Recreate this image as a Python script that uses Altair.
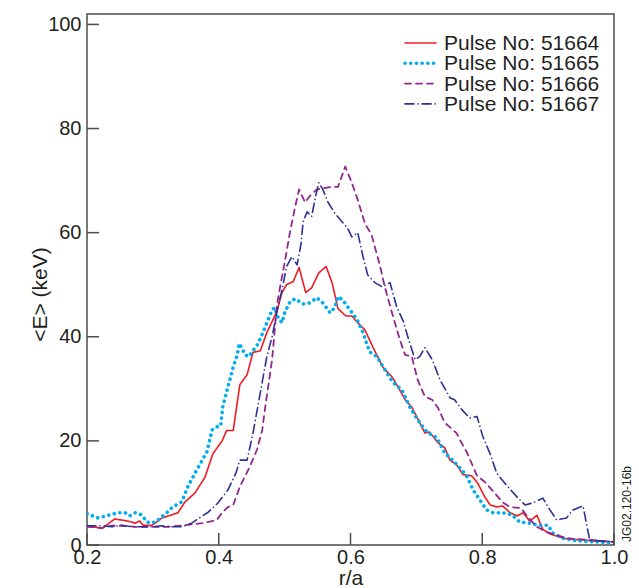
import altair as alt
import pandas as pd

# ---------------- data ----------------
series_names = ["Pulse No: 51664", "Pulse No: 51665", "Pulse No: 51666", "Pulse No: 51667"]

r_51664 = [0.200, 0.223, 0.242, 0.262, 0.273, 0.280, 0.285, 0.299, 0.314, 0.329, 0.338, 0.349,
           0.364, 0.379, 0.391, 0.405, 0.412, 0.422, 0.432, 0.443, 0.452, 0.463, 0.473, 0.488,
           0.496, 0.503, 0.513, 0.522, 0.532, 0.541, 0.552, 0.563, 0.572, 0.581, 0.593, 0.602,
           0.611, 0.622, 0.634, 0.649, 0.663, 0.672, 0.683, 0.693, 0.713, 0.720, 0.733, 0.743,
           0.751, 0.761, 0.771, 0.784, 0.793, 0.804, 0.812, 0.822, 0.831, 0.842, 0.853, 0.862,
           0.872, 0.883, 0.892, 0.903, 0.918, 0.928, 0.968, 1.000]
e_51664 = [3.7, 3.2, 5.0, 4.6, 4.2, 4.6, 3.8, 3.8, 5.2, 5.8, 6.2, 8.3,
           10.0, 13.0, 17.5, 20.0, 22.0, 22.0, 30.8, 32.7, 37.0, 37.3, 40.8, 44.8,
           48.5, 50.0, 50.6, 53.3, 48.5, 49.4, 52.3, 53.5, 50.4, 45.4, 44.0, 44.0,
           42.7, 41.3, 38.0, 34.2, 32.3, 30.4, 27.9, 26.5, 21.5, 21.7, 19.6, 18.7,
           16.3, 15.4, 13.5, 13.3, 11.9, 9.2, 7.7, 7.3, 7.5, 6.2, 5.6, 6.2,
           4.6, 5.7, 3.0, 2.1, 1.5, 1.2, 0.8, 0.6]

r_51665 = [0.200, 0.217, 0.235, 0.247, 0.258, 0.265, 0.273, 0.283, 0.291, 0.299, 0.308, 0.321,
           0.330, 0.344, 0.353, 0.364, 0.375, 0.382, 0.390, 0.397, 0.403, 0.406, 0.414, 0.422,
           0.428, 0.431, 0.435, 0.440, 0.446, 0.452, 0.459, 0.467, 0.475, 0.481, 0.485, 0.490,
           0.496, 0.500, 0.508, 0.516, 0.528, 0.538, 0.549, 0.558, 0.569, 0.576, 0.581, 0.588,
           0.599, 0.610, 0.619, 0.629, 0.640, 0.652, 0.664, 0.678, 0.690, 0.705, 0.716, 0.731,
           0.743, 0.755, 0.769, 0.777, 0.786, 0.796, 0.807, 0.816, 0.831, 0.845, 0.857, 0.872,
           0.884, 0.900, 0.907, 0.922, 0.944, 1.000]
e_51665 = [6.0, 5.2, 5.8, 6.2, 6.2, 5.6, 6.2, 5.8, 4.4, 4.2, 4.8, 6.2,
           7.3, 8.3, 11.2, 13.8, 16.3, 17.9, 22.1, 22.7, 22.9, 26.5, 30.4, 34.2,
           36.5, 38.7, 37.9, 36.5, 36.2, 37.3, 38.5, 40.8, 43.3, 45.2, 45.6, 43.7,
           42.7, 44.6, 46.7, 47.3, 46.3, 46.5, 47.5, 46.5, 44.6, 45.6, 47.7, 47.1,
           45.2, 43.3, 40.8, 37.1, 36.2, 33.7, 31.3, 29.8, 26.5, 23.5, 21.7, 20.6,
           17.7, 16.3, 14.4, 13.1, 10.6, 8.7, 6.7, 6.2, 6.2, 5.8, 4.4, 4.2,
           3.8, 3.8, 2.3, 1.3, 0.8, 0.4]

r_51666 = [0.200, 0.223, 0.238, 0.253, 0.273, 0.299, 0.323, 0.349, 0.375, 0.397, 0.405, 0.414,
           0.422, 0.432, 0.447, 0.458, 0.466, 0.470, 0.475, 0.481, 0.485, 0.488, 0.493, 0.500,
           0.508, 0.516, 0.522, 0.531, 0.538, 0.549, 0.558, 0.572, 0.581, 0.592, 0.602, 0.611,
           0.622, 0.632, 0.645, 0.652, 0.663, 0.675, 0.683, 0.693, 0.702, 0.713, 0.724, 0.733,
           0.743, 0.761, 0.766, 0.777, 0.792, 0.804, 0.816, 0.831, 0.842, 0.859, 0.869, 0.883,
           0.898, 0.913, 0.928, 0.959, 1.000]
e_51666 = [3.5, 3.3, 3.7, 3.7, 3.5, 3.5, 3.5, 3.8, 4.2, 4.8, 6.2, 7.3,
           7.7, 11.2, 15.0, 18.3, 22.1, 26.0, 30.4, 35.6, 41.3, 45.8, 49.5, 54.2,
           60.0, 65.0, 68.3, 65.8, 67.0, 68.3, 68.5, 68.8, 68.8, 72.7, 69.6, 66.3,
           61.7, 59.6, 53.5, 49.6, 44.6, 39.4, 36.5, 36.2, 31.7, 28.5, 27.9, 26.3,
           23.5, 21.5, 20.2, 17.7, 13.3, 12.1, 10.4, 8.2, 7.3, 7.1, 5.4, 3.5,
           2.5, 1.9, 1.3, 1.0, 0.6]

r_51667 = [0.200, 0.223, 0.238, 0.253, 0.268, 0.283, 0.299, 0.314, 0.329, 0.344, 0.359, 0.368,
           0.384, 0.399, 0.414, 0.426, 0.432, 0.443, 0.452, 0.463, 0.473, 0.481, 0.488, 0.496,
           0.503, 0.511, 0.519, 0.525, 0.528, 0.534, 0.541, 0.547, 0.552, 0.558, 0.566, 0.576,
           0.587, 0.595, 0.602, 0.611, 0.619, 0.626, 0.637, 0.648, 0.660, 0.670, 0.680, 0.687,
           0.698, 0.705, 0.713, 0.724, 0.736, 0.751, 0.758, 0.769, 0.781, 0.792, 0.801, 0.812,
           0.822, 0.834, 0.853, 0.865, 0.877, 0.892, 0.903, 0.913, 0.928, 0.937, 0.953, 0.963,
           0.978, 1.000]
e_51667 = [3.7, 3.7, 3.5, 3.8, 3.5, 3.5, 3.5, 3.7, 3.5, 3.5, 4.2, 5.0,
           6.3, 8.1, 10.6, 13.8, 16.3, 16.3, 21.5, 29.2, 36.2, 40.0, 44.6, 49.0,
           53.5, 55.4, 53.8, 58.0, 62.0, 64.0, 63.1, 67.0, 69.6, 68.3, 65.8, 63.8,
           62.1, 61.0, 59.2, 60.0, 55.4, 51.9, 50.4, 49.6, 50.4, 45.8, 43.0, 40.0,
           35.6, 36.2, 37.9, 35.6, 31.7, 28.3, 27.9, 26.0, 24.4, 24.7, 20.8, 17.5,
           13.8, 11.9, 9.2, 7.7, 8.1, 9.0, 6.7, 4.8, 5.2, 6.7, 7.5, 1.0,
           0.8, 0.6]

x_ticks = [0.2, 0.4, 0.6, 0.8, 1.0]
y_ticks = [0, 20, 40, 60, 80, 100]

series_r = [r_51664, r_51665, r_51666, r_51667]
series_e = [e_51664, e_51665, e_51666, e_51667]

# ---------------- styles ----------------
FONT = "Liberation Sans"
TXT = "#231f20"
FRAME = "#4d4d4d"
colors = ["#ed1c24", "#00aeef", "#92278f", "#2e3192"]
dashes = [[1, 0], [0.1, 5.6], [6, 5], [9, 4, 0.1, 4]]
widths = [1.6, 3.6, 1.8, 1.6]

W, H = 527, 531

xscale = alt.Scale(domain=[0.2, 1.0], nice=False, zero=False)
yscale = alt.Scale(domain=[0, 102], nice=False, zero=False)

xaxis = alt.Axis(values=x_ticks, format=".1f", title="r/a", ticks=False, domain=False, grid=False,
                 labelFontSize=20, labelPadding=2, labelFlush=False, labelFont=FONT, labelColor=TXT,
                 titleFont=FONT, titleFontSize=21, titleFontWeight="normal", titleColor=TXT,
                 titleBaseline="middle", titleY=33)
yaxis = alt.Axis(values=y_ticks, title="<E> (keV)", ticks=False, domain=False, grid=False,
                 labelFontSize=20, labelPadding=6, labelFont=FONT, labelColor=TXT,
                 titleFont=FONT, titleFontSize=21, titleFontWeight="normal", titleColor=TXT,
                 titleAngle=270, titleAlign="center", titleBaseline="middle", titleX=-47, titleY=280)

layers = []
for name, rr, ee, c, d, w in zip(series_names, series_r, series_e, colors, dashes, widths):
    df = pd.DataFrame({"r": rr, "E": ee})
    df["series"] = name
    layers.append(
        alt.Chart(df).mark_line(color=c, strokeDash=d, strokeWidth=w,
                                strokeCap="round", strokeJoin="round", clip=True)
        .encode(x=alt.X("r:Q", scale=xscale, axis=xaxis),
                y=alt.Y("E:Q", scale=yscale, axis=yaxis))
    )

# inward ticks
ytick = alt.Chart(pd.DataFrame({"v": y_ticks})).mark_rule(color=FRAME, strokeWidth=1.5).encode(
    y=alt.Y("v:Q", scale=yscale, axis=yaxis), x=alt.value(0), x2=alt.value(12))
xtick = alt.Chart(pd.DataFrame({"v": x_ticks})).mark_rule(color=FRAME, strokeWidth=1.5).encode(
    x=alt.X("v:Q", scale=xscale, axis=xaxis), y=alt.value(H), y2=alt.value(H - 12))
layers += [ytick, xtick]

# legend
leg_top, leg_step = 29, 20.3
for i, (name, c, d, w) in enumerate(zip(series_names, colors, dashes, widths)):
    ld = pd.DataFrame({"series": [name]})
    yy = leg_top + i * leg_step
    layers.append(alt.Chart(ld).mark_rule(color=c, strokeDash=d, strokeWidth=w, strokeCap="round")
                  .encode(x=alt.value(318), x2=alt.value(349), y=alt.value(yy)))
    layers.append(alt.Chart(ld).mark_text(align="left", baseline="middle", font=FONT, fontSize=21,
                                          color=TXT)
                  .encode(x=alt.value(357), y=alt.value(yy + 1), text="series:N"))

# figure id
layers.append(alt.Chart(pd.DataFrame({"t": ["JG02.120-16b"]}))
              .mark_text(angle=270, align="center", baseline="middle", font=FONT, fontSize=12, color=TXT)
              .encode(x=alt.value(W + 13), y=alt.value(490), text="t:N"))

chart = alt.layer(*layers).properties(
    width=W, height=H,
    padding={"left": 87, "top": 14, "right": 25, "bottom": 43},
    autosize=alt.AutoSizeParams(type="none"),
    background="white",
).configure_view(stroke=FRAME, strokeWidth=1.5)

chart.save("out.html", embed_options={"renderer": "svg", "actions": False})
